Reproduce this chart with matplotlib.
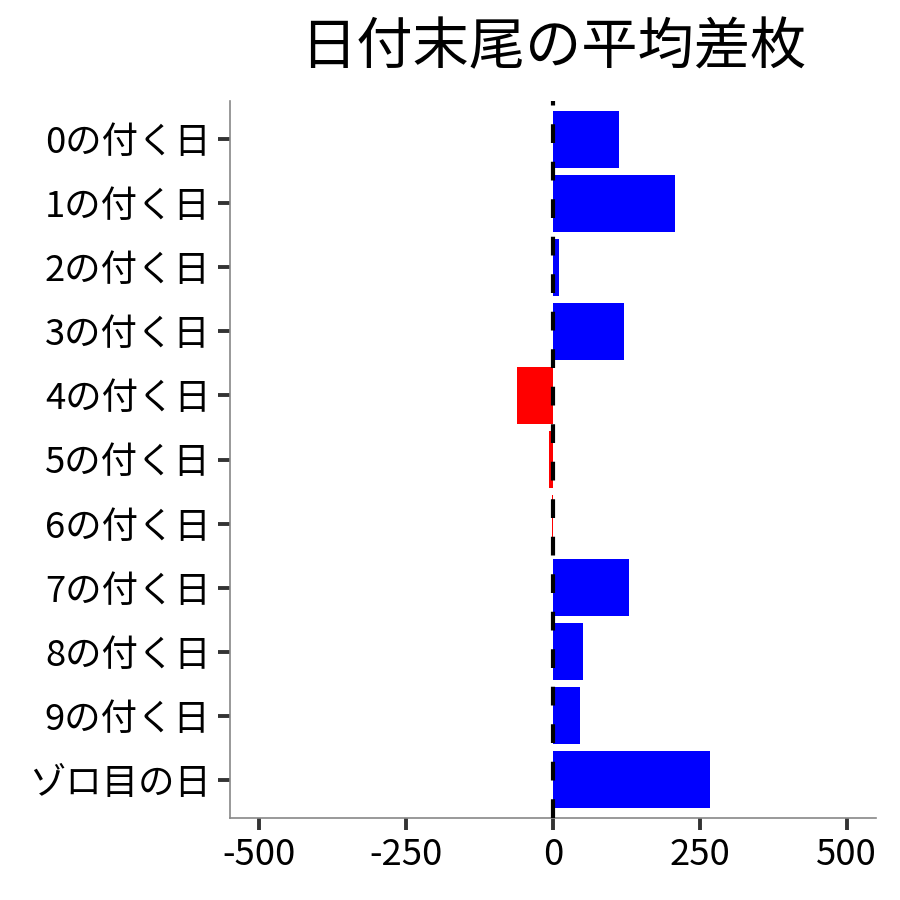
import matplotlib
matplotlib.use("Agg")
import matplotlib.pyplot as plt

plt.rcParams['font.family'] = ['Noto Sans CJK JP', 'DejaVu Sans']

categories = ["0の付く日", "1の付く日", "2の付く日", "3の付く日", "4の付く日",
              "5の付く日", "6の付く日", "7の付く日", "8の付く日", "9の付く日", "ゾロ目の日"]
values = [112, 207, 10, 121, -61, -7, -1, 129, 51, 46, 267]
xticks = [-500, -250, 0, 250, 500]
xticklabels = ["-500", "-250", "0", "250", "500"]
title = "日付末尾の平均差枚"

fig = plt.figure(figsize=(9, 9), dpi=100)
ax = fig.add_axes([230/900, 1-818/900, (876-230)/900, (818-101)/900])

n = len(categories)
ypos = list(range(n))
colors = ["#0000FF" if v >= 0 else "#FF0000" for v in values]
ax.barh(ypos, values, height=0.9, color=colors, zorder=2)
ax.axvline(0, color="black", linestyle=(0, (4.5, 4.5)), linewidth=3, zorder=3)

ax.set_xlim(-550, 550)
ax.set_ylim(n - 0.4, -0.6)
ax.set_yticks(ypos)
ax.set_yticklabels(categories, fontsize=26.2)
ax.set_xticks(xticks)
ax.set_xticklabels(xticklabels, fontsize=26.2)

for s in ["top", "right"]:
    ax.spines[s].set_visible(False)
for s in ["left", "bottom"]:
    ax.spines[s].set_color("#888888")
    ax.spines[s].set_linewidth(1.2)
ax.tick_params(axis="both", length=8.5, width=2.8, color="#333333", pad=5.5, labelcolor="black")

fig.text(553/900, 1-48/900, title, fontsize=40.5, ha="center", va="center")

fig.savefig("out.png", dpi=100)
